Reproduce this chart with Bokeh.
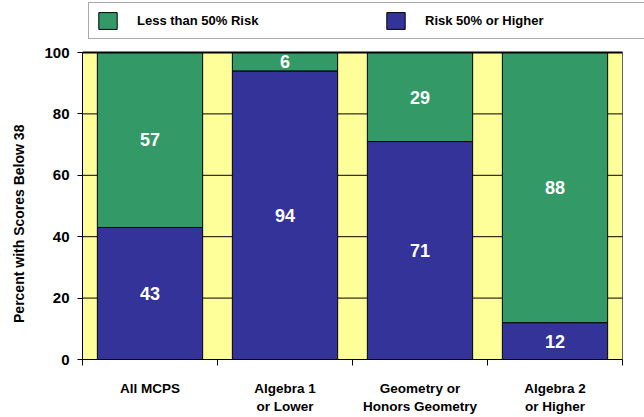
from bokeh.plotting import figure
from bokeh.models import ColumnDataSource, Range1d, FixedTicker, Legend, LegendItem
from bokeh.core.properties import value
from bokeh.embed import file_html
from bokeh.resources import INLINE

# ---- data ----
categories = ["All MCPS", "Algebra 1\nor Lower", "Geometry or\nHonors Geometry", "Algebra 2\nor Higher"]
risk_high = [43, 94, 71, 12]   # Risk 50% or Higher (bottom, blue)
risk_low = [57, 6, 29, 88]     # Less than 50% Risk (top, green)
y_ticks = [0, 20, 40, 60, 80, 100]
series_names = ["Less than 50% Risk", "Risk 50% or Higher"]
y_title = "Percent with Scores Below 38"

FONT = "Liberation Sans"
GREEN = "#339966"
BLUE = "#333399"
YELLOW = "#FFFF99"

# ---- layout (pixels) ----
W, H = 644, 417
PLOT_L, PLOT_R, PLOT_T, PLOT_B = 82, 622, 52, 359   # data area
FRAME_T = 2                                          # frame extends up to hold the legend

n = len(categories)
y_max = y_ticks[-1]
xs = [i + 0.5 for i in range(n)]
bounds = [float(i) for i in range(n + 1)]

x_end = n * (W - PLOT_L) / (PLOT_R - PLOT_L)
y_end = y_max * (PLOT_B - FRAME_T) / (PLOT_B - PLOT_T)

src = ColumnDataSource(dict(
    x=xs, high=risk_high, low=risk_low,
    high_mid=[h / 2 for h in risk_high],
    low_mid=[h + l / 2 for h, l in zip(risk_high, risk_low)],
    high_txt=[str(v) for v in risk_high],
    low_txt=[str(v) for v in risk_low],
))
grid_src = ColumnDataSource(dict(y=y_ticks[1:-1], x0=[0] * (len(y_ticks) - 2), x1=[n] * (len(y_ticks) - 2)))

p = figure(width=W, height=H, output_backend="svg", toolbar_location=None,
           x_range=Range1d(0, x_end), y_range=Range1d(0, y_end),
           min_border_left=PLOT_L, min_border_right=0, min_border_top=FRAME_T,
           min_border_bottom=H - PLOT_B)
p.background_fill_color = "white"
p.border_fill_color = "white"
p.outline_line_color = None
p.xgrid.visible = False
p.ygrid.visible = False

# yellow plot area
p.quad(left=[0], right=[n], bottom=[0], top=[y_max], fill_color=YELLOW,
       line_color="#666666", line_width=1)
# grid lines
p.segment(x0="x0", x1="x1", y0="y", y1="y", source=grid_src, line_color="black", line_width=1)

bars = p.vbar_stack(["high", "low"], x="x", width=0.78, source=src,
                    fill_color=[BLUE, GREEN], line_color="black", line_width=1)

# top border of plot area
p.segment(x0=[0], x1=[n], y0=[y_max], y1=[y_max], line_color="black", line_width=2)

p.text(x="x", y="high_mid", text="high_txt", source=src, text_color="white",
       text_font=value(FONT), text_font_style="bold", text_font_size="18px",
       text_align="center", text_baseline="middle")
p.text(x="x", y="low_mid", text="low_txt", source=src, text_color="white",
       text_font=value(FONT), text_font_style="bold", text_font_size="18px",
       text_align="center", text_baseline="middle")

legend = Legend(items=[LegendItem(label=series_names[0], renderers=[bars[1]]),
                       LegendItem(label=series_names[1], renderers=[bars[0]])],
                orientation="horizontal", location=(6, PLOT_B - 39),
                padding=7, spacing=32, label_width=215, label_standoff=18,
                glyph_width=23, glyph_height=21,
                label_text_font=FONT, label_text_font_style="bold", label_text_font_size="13px",
                label_text_color="black",
                border_line_color="#555555", border_line_width=1.5,
                background_fill_color="white", background_fill_alpha=1)
p.add_layout(legend)

# y axis (title padded with no-break spaces so it centres on the data area, not the taller frame)
p.yaxis.bounds = (0, y_max)
p.yaxis.ticker = FixedTicker(ticks=y_ticks)
p.yaxis.axis_label = y_title + "\u00a0" * 22
p.yaxis.axis_label_text_font = FONT
p.yaxis.axis_label_text_font_style = "bold"
p.yaxis.axis_label_text_font_size = "14px"
p.yaxis.axis_label_text_color = "black"
p.yaxis.axis_label_standoff = 14
p.yaxis.major_label_text_font = FONT
p.yaxis.major_label_text_font_style = "bold"
p.yaxis.major_label_text_font_size = "15px"
p.yaxis.major_label_text_color = "black"
p.yaxis.major_label_standoff = 8
p.yaxis.major_tick_in = 0
p.yaxis.major_tick_out = 5
p.yaxis.minor_tick_line_color = None
p.yaxis.axis_line_color = "black"
p.yaxis.major_tick_line_color = "black"

# x axis: labels at centers, ticks at boundaries (minor ticks)
p.xaxis.bounds = (0, n)
p.xaxis.ticker = FixedTicker(ticks=xs, minor_ticks=bounds)
p.xaxis.major_label_overrides = {x: c for x, c in zip(xs, categories)}
p.xaxis.major_tick_line_color = None
p.xaxis.major_tick_in = 0
p.xaxis.major_tick_out = 0
p.xaxis.minor_tick_in = 0
p.xaxis.minor_tick_out = 6
p.xaxis.minor_tick_line_color = "black"
p.xaxis.axis_line_color = "black"
p.xaxis.major_label_text_font = FONT
p.xaxis.major_label_text_font_style = "bold"
p.xaxis.major_label_text_font_size = "13.5px"
p.xaxis.major_label_text_color = "black"
p.xaxis.major_label_standoff = 15

open("out.html", "w").write(file_html(p, INLINE))
